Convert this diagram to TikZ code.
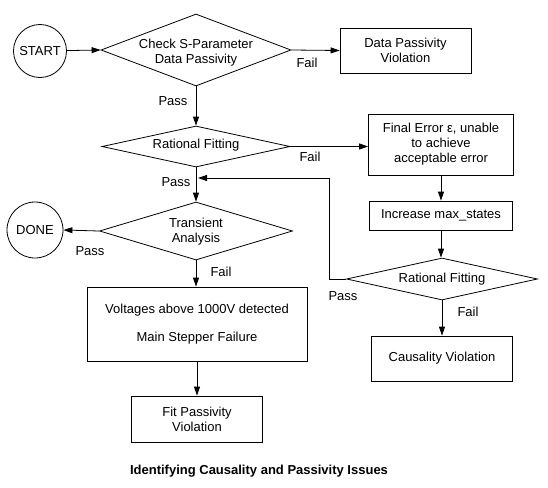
\documentclass[tikz,border=0pt]{standalone}
\usepackage{fontspec}
\setmainfont{Liberation Sans}
\usetikzlibrary{shapes.geometric,arrows.meta}
\begin{document}
\begin{tikzpicture}[x=1pt,y=-1pt,
  font=\fontsize{13}{15}\selectfont,
  every path/.style={line width=0.8pt},
  box/.style={draw,rectangle,inner sep=0pt,align=center},
  dia/.style={draw,diamond,inner sep=0pt},
  term/.style={draw,circle,inner sep=0pt},
  lbl/.style={inner sep=0pt},
  arr/.style={-{Triangle[length=9pt,width=6pt]}}]
\useasboundingbox (0,0) rectangle (548,487);
% nodes
\node[term,minimum size=53pt] (start) at (40,51) {START};
\node[dia,minimum width=190pt,minimum height=72pt] (d1) at (196,50) {};
\node[align=center] at (196,53) {Check S-Parameter\\Data Passivity};
\node[box,minimum width=131pt,minimum height=45pt] (dpv) at (405.5,50.5) {Data Passivity\\Violation};
\node[dia,minimum width=188pt,minimum height=41pt] (rf1) at (196,146.5) {};
\node at (196,145) {Rational Fitting};
\node[box,minimum width=145pt,minimum height=61pt] (fe) at (441,144.5) {Final Error ε, unable\\to achieve\\acceptable error};
\node[box,minimum width=143pt,minimum height=29pt] (inc) at (441,215.5) {Increase max\_states};
\node[dia,minimum width=191pt,minimum height=42pt] (rf2) at (442,279) {};
\node at (442,279) {Rational Fitting};
\node[box,minimum width=141pt,minimum height=45pt] (cv) at (442,358.5) {Causality Violation};
\node[dia,minimum width=193pt,minimum height=58pt] (ta) at (196,231) {};
\node[align=center] at (196,232) {Transient\\Analysis};
\node[term,minimum size=56pt] (done) at (35,230) {DONE};
\node[box,minimum width=220pt,minimum height=74pt] (volt) at (197,324) {Voltages above 1000V detected\\[13pt]Main Stepper Failure};
\node[box,minimum width=131pt,minimum height=46pt] (fit) at (197,419) {Fit Passivity\\Violation};
\node[font=\fontsize{13}{15}\selectfont\bfseries] (title) at (259,471) {Identifying Causality and Passivity Issues};
% labels
\node[lbl] (l1) at (307,63) {Fail};
\node[lbl] (l2) at (173,101) {Pass};
\node[lbl] (l3) at (310,157) {Fail};
\node[lbl] (l4) at (176,182) {Pass};
\node[lbl] (l5) at (90,251) {Pass};
\node[lbl] (l6) at (221,272) {Fail};
\node[lbl] (l7) at (343,296) {Pass};
\node[lbl] (l8) at (468,312) {Fail};
% connectors
\draw[arr] (start) -- (d1.west);
\draw[arr] (d1.east) -- (dpv.west);
\draw[arr] (d1.south) -- (rf1.north);
\draw[arr] (rf1.east) -- (rf1.east -| fe.west);
\draw[arr] (rf1.south) -- (ta.north);
\draw[arr] (fe.south) -- (inc.north);
\draw[arr] (inc.south) -- (inc.south |- rf2.north);
\draw[arr] (rf2.south) -- (rf2.south |- cv.north);
\coordinate (fbc) at (329,178);
\coordinate (fbt) at (198,178);
\draw[arr] (rf2.west) -| (fbc) -- (fbt);
\draw[arr] (ta.west) -- (done.east);
\draw[arr] (ta.south) -- (ta.south |- volt.north);
\draw[arr] (volt.south) -- (fit.north);
\end{tikzpicture}
\end{document}
